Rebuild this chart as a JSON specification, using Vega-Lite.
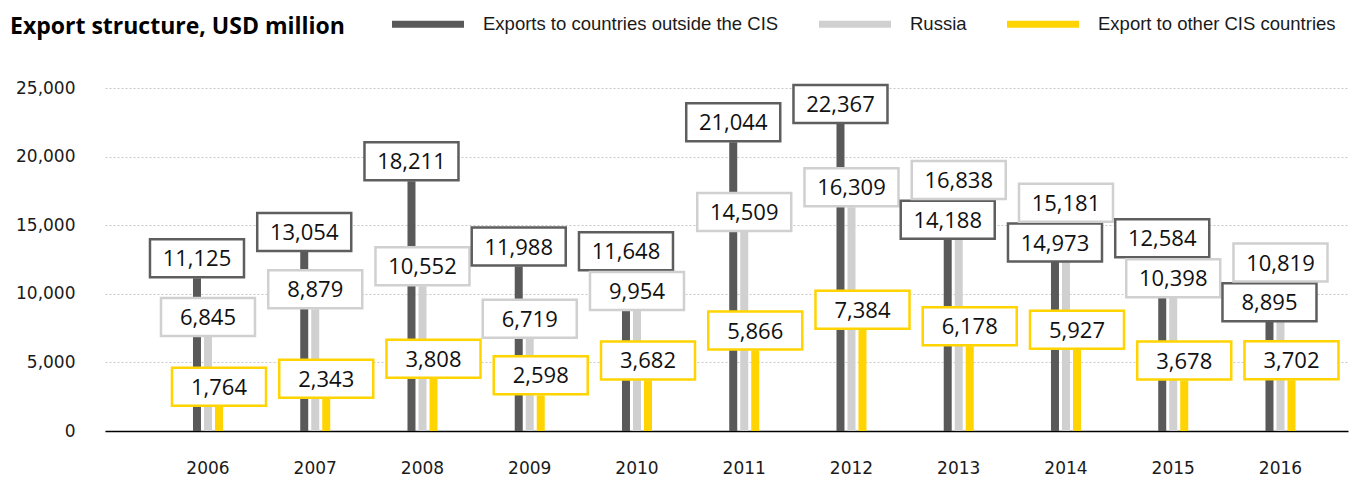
{
  "$schema": "https://vega.github.io/schema/vega-lite/v6.json",
  "autosize": {"type": "none"},
  "width": 1243,
  "height": 343,
  "padding": {"left": 105, "top": 88, "right": 1, "bottom": 46},
  "background": "white",
  "title": {
    "text": "Export structure, USD million",
    "anchor": "start",
    "frame": "group",
    "font": "Open Sans",
    "fontSize": 23,
    "fontWeight": "bold",
    "color": "#000000",
    "dx": -95,
    "dy": 51,
    "offset": 0
  },
  "config": {
    "view": {"stroke": null}
  },
  "data": {
    "values": [
      {"year": "2006", "series": "Exports to countries outside the CIS", "value": 11125},
      {"year": "2006", "series": "Russia", "value": 6845},
      {"year": "2006", "series": "Export to other CIS countries", "value": 1764},
      {"year": "2007", "series": "Exports to countries outside the CIS", "value": 13054},
      {"year": "2007", "series": "Russia", "value": 8879},
      {"year": "2007", "series": "Export to other CIS countries", "value": 2343},
      {"year": "2008", "series": "Exports to countries outside the CIS", "value": 18211},
      {"year": "2008", "series": "Russia", "value": 10552},
      {"year": "2008", "series": "Export to other CIS countries", "value": 3808},
      {"year": "2009", "series": "Exports to countries outside the CIS", "value": 11988},
      {"year": "2009", "series": "Russia", "value": 6719},
      {"year": "2009", "series": "Export to other CIS countries", "value": 2598},
      {"year": "2010", "series": "Exports to countries outside the CIS", "value": 11648},
      {"year": "2010", "series": "Russia", "value": 9954},
      {"year": "2010", "series": "Export to other CIS countries", "value": 3682},
      {"year": "2011", "series": "Exports to countries outside the CIS", "value": 21044},
      {"year": "2011", "series": "Russia", "value": 14509},
      {"year": "2011", "series": "Export to other CIS countries", "value": 5866},
      {"year": "2012", "series": "Exports to countries outside the CIS", "value": 22367},
      {"year": "2012", "series": "Russia", "value": 16309},
      {"year": "2012", "series": "Export to other CIS countries", "value": 7384},
      {"year": "2013", "series": "Exports to countries outside the CIS", "value": 14188},
      {"year": "2013", "series": "Russia", "value": 16838},
      {"year": "2013", "series": "Export to other CIS countries", "value": 6178},
      {"year": "2014", "series": "Exports to countries outside the CIS", "value": 14973},
      {"year": "2014", "series": "Russia", "value": 15181},
      {"year": "2014", "series": "Export to other CIS countries", "value": 5927},
      {"year": "2015", "series": "Exports to countries outside the CIS", "value": 12584},
      {"year": "2015", "series": "Russia", "value": 10398},
      {"year": "2015", "series": "Export to other CIS countries", "value": 3678},
      {"year": "2016", "series": "Exports to countries outside the CIS", "value": 8895},
      {"year": "2016", "series": "Russia", "value": 10819},
      {"year": "2016", "series": "Export to other CIS countries", "value": 3702}
    ]
  },
  "encoding": {
    "x": {
      "field": "year",
      "type": "ordinal",
      "scale": {"paddingInner": 0.6923, "paddingOuter": 0.641, "align": 0.629},
      "axis": {
        "title": null,
        "labelAngle": 0,
        "ticks": false,
        "domain": true,
        "domainColor": "#000000",
        "domainWidth": 1.5,
        "labelFont": "DejaVu Sans",
        "labelFontSize": 17,
        "labelColor": "#1a1a1a",
        "labelPadding": 29,
        "grid": false
      }
    },
    "xOffset": {
      "field": "series",
      "type": "nominal",
      "sort": ["Exports to countries outside the CIS", "Russia", "Export to other CIS countries"],
      "scale": {"paddingInner": 0.273, "paddingOuter": 0.136}
    }
  },
  "layer": [
    {
      "mark": {"type": "bar", "y2Offset": -4},
      "encoding": {
        "y": {
          "field": "value",
          "type": "quantitative",
          "scale": {"domain": [0, 25000], "nice": false},
          "axis": {
            "title": null,
            "values": [0, 5000, 10000, 15000, 20000, 25000],
            "format": ",.0f",
            "domain": false,
            "ticks": false,
            "grid": true,
            "gridDash": [2, 2],
            "gridColor": "#c8c8c8",
            "gridWidth": 1,
            "labelFont": "DejaVu Sans",
            "labelFontSize": 17,
            "labelColor": "#1a1a1a",
            "labelPadding": 30
          }
        },
        "color": {
          "field": "series",
          "type": "nominal",
          "sort": ["Exports to countries outside the CIS", "Russia", "Export to other CIS countries"],
          "scale": {
            "domain": ["Exports to countries outside the CIS", "Russia", "Export to other CIS countries"],
            "range": ["#595959", "#d0d0d0", "#ffd400"]
          },
          "legend": {
            "orient": "none",
            "legendX": 287,
            "legendY": -100,
            "direction": "horizontal",
            "title": null,
            "symbolType": "M-1,-0.1L1,-0.1L1,0.1L-1,0.1Z",
            "symbolSize": 5184,
            "symbolStrokeWidth": 0,
            "labelFont": "Liberation Sans",
            "labelFontSize": 18.5,
            "labelColor": "#1a1a1a",
            "labelOffset": 19,
            "columnPadding": 40,
            "labelLimit": 400
          }
        }
      }
    },
    {
      "transform": [
        {"calculate": "datum.series === 'Export to other CIS countries' ? null : datum.value", "as": "pair"},
        {"joinaggregate": [{"op": "max", "field": "pair", "as": "hi"}, {"op": "min", "field": "pair", "as": "lo"}], "groupby": ["year"]},
        {"calculate": "datum.pair !== null && datum.value === datum.lo && datum.hi - datum.lo < 2900 ? datum.hi - 2900 : datum.value", "as": "labelPos"}
      ],
      "encoding": {
        "y": {"field": "labelPos", "type": "quantitative"}
      },
      "layer": [
        {
          "mark": {
            "type": "point",
            "shape": "M-1.237,-0.5L1.237,-0.5L1.237,0.5L-1.237,0.5Z",
            "size": 5776,
            "filled": true,
            "fill": "white",
            "fillOpacity": 1,
            "strokeOpacity": 1,
            "opacity": 1,
            "strokeWidth": 2.5,
            "yOffset": -20
          },
          "encoding": {
            "stroke": {
              "field": "series",
              "type": "nominal",
              "scale": {
                "domain": ["Exports to countries outside the CIS", "Russia", "Export to other CIS countries"],
                "range": ["#5e5e5e", "#d0d0d0", "#ffd400"]
              },
              "legend": null
            }
          }
        },
        {
          "mark": {
            "type": "text",
            "font": "Open Sans",
            "fontSize": 22,
            "color": "#111111",
            "align": "center",
            "baseline": "middle",
            "yOffset": -19
          },
          "encoding": {
            "text": {"field": "value", "type": "quantitative", "format": ","}
          }
        }
      ]
    }
  ]
}
